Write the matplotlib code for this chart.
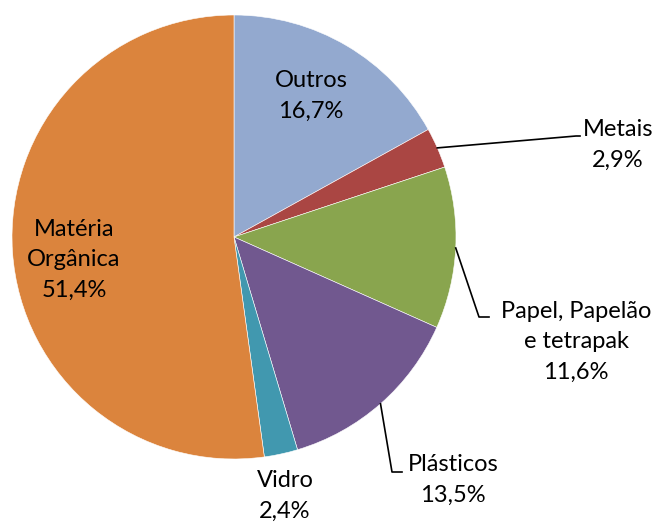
import numpy as np
import matplotlib
matplotlib.use("Agg")
import matplotlib.pyplot as plt

plt.rcParams['font.family'] = ['Lato', 'DejaVu Sans']

# composição gravimétrica dos resíduos (%)
categorias = ['Outros', 'Metais', 'Papel, Papelão\ne tetrapak', 'Plásticos', 'Vidro', 'Matéria\nOrgânica']
valores = [16.7, 2.9, 11.6, 13.5, 2.4, 51.4]
cores = ['#93A9CF', '#AA4643', '#89A54E', '#71588F', '#4198AF', '#DB843D']

W, H = 657, 523
fig = plt.figure(figsize=(W / 100, H / 100), dpi=100)
# pie centred at (234, 237) px, radius 222 px
cx, cy, r = 234, 237, 222
ax = fig.add_axes([(cx - r) / W, (H - cy - r) / H, 2 * r / W, 2 * r / H])

wedges, _ = ax.pie(valores, colors=cores, startangle=90, counterclock=False,
                   radius=1, center=(0, 0), wedgeprops=dict(linewidth=0.4, edgecolor='white'))
# pie() resets the limits, so fix them afterwards
ax.set_xlim(-1, 1)
ax.set_ylim(-1, 1)
ax.set_aspect('equal')
ax.axis('off')


def px(x, y):
    return (x - cx) / r, (cy - y) / r


# label centres (px) and leader line end (px)
rotulos = {
    0: ((311, 96), None),
    1: ((618, 145), (576, 136)),
    2: ((576, 342), (489, 317)),
    3: ((453, 480), (402, 472)),
    4: ((285, 496), None),
    5: ((74, 260), None),
}

for i, (w, v) in enumerate(zip(wedges, valores)):
    (tx, ty), fim = rotulos[i]
    texto = f"{categorias[i]}\n{v:.1f}%".replace('.', ',')
    x, y = px(tx, ty)
    ax.text(x, y, texto, ha='center', va='center', fontsize=17,
            linespacing=1.55, color='black', clip_on=False)
    if fim is not None:
        ang = np.deg2rad((w.theta1 + w.theta2) / 2)
        x0, y0 = np.cos(ang), np.sin(ang)
        ex, ey = px(*fim)
        if i == 1:
            pts = [(x0, y0), (ex, ey), (ex + 4 / r, ey)]
        else:
            pts = [(x0, y0), (ex - 10 / r, ey), (ex, ey)]
        xs, ys = zip(*pts)
        ax.plot(xs, ys, color='black', lw=1.2, clip_on=False)

fig.savefig('out.png', dpi=100)
